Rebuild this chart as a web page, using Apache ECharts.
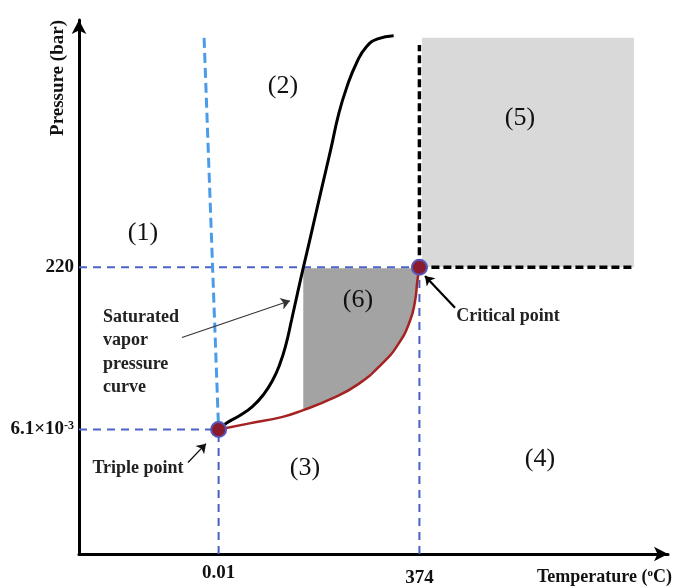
<!DOCTYPE html>
<html>
<head>
<meta charset="utf-8">
<script src="https://cdn.jsdelivr.net/npm/echarts@6/dist/echarts.min.js"></script>
<style>
  html, body { margin: 0; padding: 0; background: #fff; }
  #chart { width: 680px; height: 588px; }
</style>
</head>
<body>
<div id="chart"></div>
<script>
// Phase diagram of water (schematic).
// Temperature runs linearly in °C; pressure uses a schematic level scale
// on which only the triple-point and critical-point pressures are labelled.
const tempTicks = [0.01, 374];
const tempTickLabels = ['{a|0.01}', '{b|374}'];
const pressureLevels = [23, 53];
const pressureTickLabels = ['6.1×10{sup|-3}', '220'];

const triplePoint = [0.01, 23];
const criticalPoint = [374, 53];

// saturated vapour pressure curve (black)
const vaporCurve = [
  [0.01, 23], [14.9, 24.2], [41, 25.7], [63.4, 27.3], [83.9, 29.5], [100.6, 32.1],
  [113.7, 35.0], [124.9, 38.5], [136.0, 43.3], [147.2, 48.3], [158.4, 53.2],
  [171.4, 58.7], [190.1, 66.8], [208.7, 74.7], [223.6, 81.3], [238.5, 86.2],
  [257.1, 90.8], [275.7, 93.8], [296.2, 95.2], [326, 95.8]
];
// boundary from the triple point to the critical point (red)
const boundaryCurve = [
  [0.01, 23], [55.3, 24.1], [117.5, 25.3], [157.7, 26.6], [210.6, 28.7],
  [260.2, 31.4], [303.7, 35.1], [334.7, 38.8], [356.5, 43.1], [365.8, 46.7],
  [370.1, 50.4], [374, 53]
];
// solid–liquid boundary (light blue, dashed)
const meltingLine = [[-27, 95.4], [0.01, 23]];

// shaded regions
const region6Left = 157.7;
const region6Top = 52.8;
const supercriticalBox = [[378.8, 53], [773.6, 95.4]];
const supercriticalTop = 94.1;
const supercriticalRight = 769.9;

// axis extents
const tempMin = -260, tempMax = 837;
const levelMin = 0, levelMax = 98.7;

// text annotations
const regionNames = ['(1)', '(2)', '(3)', '(4)', '(5)', '(6)'];
const regionNamePos = [[-140.8, 59.3], [119.9, 86.4], [160.9, 15.8], [598.6, 17.6], [561.3, 80.6], [259.6, 47.0]];
const noteTexts = ['Saturated\nvapor\npressure\ncurve', 'Triple point', 'Critical point'];
const notePos = [[-215.3, 37.3], [-150.1, 15.8], [539, 43.9]];
const noteAlign = ['left', 'center', 'center'];
const noteArrows = [
  [[-68.2, 40.0], [133, 46.8]],
  [[-57, 16.9], [-23.5, 20.4]],
  [[440.3, 45.5], [384.4, 51.4]]
];
const noteArrowWidths = [1.1, 1.3, 2.2];
const noteArrowColors = ['#333', '#111', '#000'];

const SERIF = '"Liberation Serif", "Times New Roman", "DejaVu Serif", serif';

// region (6): between the left edge, the 220 bar level and the red boundary
const region6Poly = [[region6Left, region6Top]]
  .concat(boundaryCurve.filter(p => p[0] >= region6Left))
  .concat([[criticalPoint[0], region6Top]]);
// region (5): supercritical block
const region5Poly = [
  [supercriticalBox[0][0], supercriticalBox[0][1]],
  [supercriticalBox[1][0], supercriticalBox[0][1]],
  [supercriticalBox[1][0], supercriticalBox[1][1]],
  [supercriticalBox[0][0], supercriticalBox[1][1]]
];

function polygonSeries(points, fill) {
  return {
    type: 'custom',
    silent: true,
    z: 1,
    data: [points[0]],
    renderItem: function (params, api) {
      return {
        type: 'polygon',
        shape: { points: points.map(p => api.coord(p)) },
        style: { fill: fill }
      };
    }
  };
}

function dashedLine(data, color, width, dash, z) {
  return {
    type: 'line',
    data: data,
    showSymbol: false,
    silent: true,
    z: z || 2,
    lineStyle: { color: color, width: width, type: dash }
  };
}

const chart = echarts.init(document.getElementById('chart'), null, { renderer: 'canvas' });

chart.setOption({
  animation: false,
  backgroundColor: '#ffffff',
  grid: { left: 79, right: 12, top: 20, bottom: 30 },
  xAxis: {
    type: 'value',
    min: tempMin,
    max: tempMax,
    splitLine: { show: false },
    axisTick: { show: false },
    axisLine: {
      show: true,
      onZero: false,
      lineStyle: { color: '#000', width: 3 },
      symbol: ['none', 'arrow'],
      symbolSize: [11, 14]
    },
    axisLabel: {
      customValues: tempTicks,
      formatter: v => tempTickLabels[tempTicks.indexOf(v)],
      margin: 10,
      rich: {
        a: { fontFamily: SERIF, fontWeight: 'bold', fontSize: 19, color: '#111' },
        b: { fontFamily: SERIF, fontWeight: 'bold', fontSize: 19, color: '#111', padding: [5, 0, 0, 0] }
      }
    },
    name: '{t|Temperature (}{s|o}{t|C)}',
    nameLocation: 'end',
    nameGap: -131,
    nameTextStyle: {
      align: 'left',
      verticalAlign: 'top',
      padding: [14, 0, 0, 0],
      rich: {
        t: { fontFamily: SERIF, fontWeight: 'bold', fontSize: 18, color: '#111' },
        s: { fontFamily: SERIF, fontWeight: 'bold', fontSize: 11, color: '#111', verticalAlign: 'top' }
      }
    }
  },
  yAxis: {
    type: 'value',
    min: levelMin,
    max: levelMax,
    splitLine: { show: false },
    axisTick: { show: false },
    axisLine: {
      show: true,
      onZero: false,
      lineStyle: { color: '#000', width: 3 },
      symbol: ['none', 'arrow'],
      symbolSize: [11, 14]
    },
    axisLabel: {
      customValues: pressureLevels,
      formatter: v => pressureTickLabels[pressureLevels.indexOf(v)],
      margin: 5,
      fontFamily: SERIF,
      fontWeight: 'bold',
      fontSize: 19,
      color: '#111',
      rich: {
        sup: { fontFamily: SERIF, fontWeight: 'bold', fontSize: 12, color: '#111', verticalAlign: 'top' }
      }
    },
    name: 'Pressure (bar)',
    nameLocation: 'end',
    nameRotate: 90,
    nameGap: -58,
    nameTextStyle: {
      fontFamily: SERIF,
      fontWeight: 'bold',
      fontSize: 19,
      color: '#111',
      align: 'center',
      verticalAlign: 'bottom',
      padding: [0, 0, 11, 0]
    }
  },
  series: [
    polygonSeries(region5Poly, '#d9d9d9'),
    polygonSeries(region6Poly, '#a3a3a3'),

    // reference levels (blue dashed)
    dashedLine([[tempMin, criticalPoint[1]], criticalPoint], '#4d63c6', 2, [8, 6]),
    dashedLine([[tempMin, triplePoint[1]], triplePoint], '#4d63c6', 2, [8, 6]),
    dashedLine([[triplePoint[0], levelMin], triplePoint], '#4a5fc2', 2, [8, 6]),
    dashedLine([[criticalPoint[0], levelMin], criticalPoint], '#4a5fc2', 2, [8, 6]),
    // solid–liquid boundary
    dashedLine(meltingLine, '#4a9ce8', 3, [10, 5]),
    // supercritical boundaries (black dashed)
    dashedLine([criticalPoint, [criticalPoint[0], supercriticalTop]], '#000', 3.5, [8, 4], 3),
    dashedLine([criticalPoint, [supercriticalRight, criticalPoint[1]]], '#000', 3.5, [8, 4], 3),

    {
      type: 'line',
      data: vaporCurve,
      smooth: 0.5,
      showSymbol: false,
      silent: true,
      z: 4,
      lineStyle: { color: '#000', width: 3 }
    },
    {
      type: 'line',
      data: boundaryCurve,
      smooth: 0.5,
      showSymbol: false,
      silent: true,
      z: 4,
      lineStyle: { color: '#a52222', width: 2.5 }
    },

    // annotation arrows
    {
      type: 'lines',
      coordinateSystem: 'cartesian2d',
      silent: true,
      z: 5,
      symbol: ['none', 'arrow'],
      symbolSize: 9,
      data: noteArrows.map((c, i) => ({
        coords: c,
        lineStyle: { color: noteArrowColors[i], width: noteArrowWidths[i], opacity: 1 }
      })),
      lineStyle: { curveness: 0, opacity: 1 }
    },

    // triple and critical points
    {
      type: 'scatter',
      data: [triplePoint, criticalPoint],
      symbol: 'circle',
      symbolSize: 15,
      silent: true,
      z: 6,
      itemStyle: { color: '#8a1a2c', borderColor: '#5558b8', borderWidth: 2, opacity: 1 }
    },

    // region numbers
    {
      type: 'scatter',
      silent: true,
      z: 7,
      symbolSize: 1,
      itemStyle: { color: 'rgba(0,0,0,0)', opacity: 1 },
      data: regionNamePos.map((p, i) => ({ value: p, name: regionNames[i] })),
      label: {
        show: true,
        position: 'inside',
        formatter: '{b}',
        fontFamily: SERIF,
        fontSize: 26,
        color: '#111',
        opacity: 1,
        textBorderWidth: 0
      }
    },

    // notes
    {
      type: 'scatter',
      silent: true,
      z: 7,
      symbolSize: 1,
      itemStyle: { color: 'rgba(0,0,0,0)', opacity: 1 },
      data: notePos.map((p, i) => ({
        value: p,
        name: noteTexts[i],
        label: { align: noteAlign[i] }
      })),
      label: {
        show: true,
        position: 'inside',
        formatter: '{b}',
        fontFamily: SERIF,
        fontWeight: 'bold',
        fontSize: 18,
        lineHeight: 23.5,
        color: '#222',
        opacity: 1,
        textBorderWidth: 0
      }
    }
  ]
});
</script>
</body>
</html>
